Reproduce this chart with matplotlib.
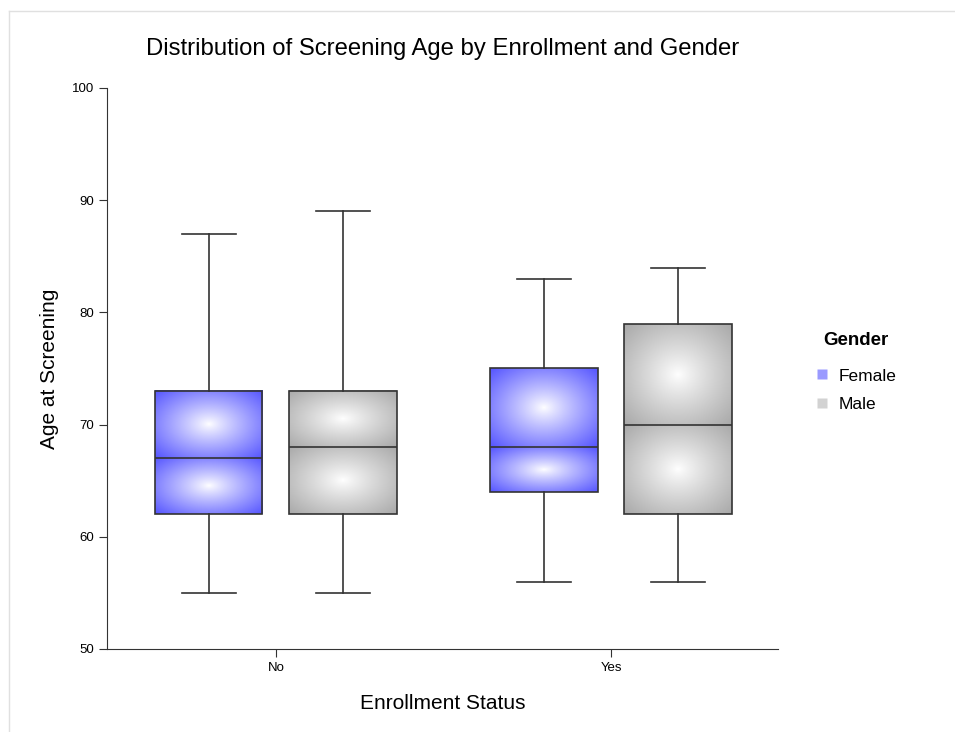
import numpy as np
import matplotlib
matplotlib.use("Agg")
import matplotlib.pyplot as plt
from matplotlib.lines import Line2D

plt.rcParams["font.family"] = ["Liberation Sans", "DejaVu Sans"]

# data
enrollment = ["No", "Yes"]
genders = ["Female", "Male"]
whisker_low = [[55, 55], [56, 56]]
q1 = [[62, 62], [64, 62]]
median = [[67, 68], [68, 70]]
q3 = [[73, 73], [75, 79]]
whisker_high = [[87, 89], [83, 84]]

edge_rgb = {"Female": (0.33, 0.33, 1.0), "Male": (0.66, 0.66, 0.66)}
legend_rgb = {"Female": "#9a9aff", "Male": "#d2d2d2"}
offsets = {"Female": -0.2, "Male": 0.2}
box_w = 0.32

fig = plt.figure(figsize=(9.55, 7.32), dpi=100)
ax = fig.add_axes([0.112, 0.1134, 0.7026, 0.7664])


def radial(rgb, n=120):
    yy, xx = np.mgrid[-1:1:n * 1j, -1:1:n * 1j]
    r = np.sqrt(xx ** 2 + yy ** 2) / np.sqrt(2)
    r = np.clip(r, 0, 1) ** 0.9
    img = np.ones((n, n, 3))
    for c in range(3):
        img[..., c] = 1.0 * (1 - r) + rgb[c] * r
    return img


stats = []
positions = []
for i, enr in enumerate(enrollment):
    for j, g in enumerate(genders):
        pos = i + offsets[g]
        positions.append(pos)
        stats.append({
            "whislo": whisker_low[i][j], "q1": q1[i][j], "med": median[i][j],
            "q3": q3[i][j], "whishi": whisker_high[i][j], "fliers": [],
        })
        x0, x1 = pos - box_w / 2, pos + box_w / 2
        grad = radial(edge_rgb[g])
        for lo, hi in [(q1[i][j], median[i][j]), (median[i][j], q3[i][j])]:
            ax.imshow(grad, extent=[x0, x1, lo, hi], aspect="auto",
                      interpolation="bilinear", zorder=1)

ax.bxp(stats, positions=positions, widths=box_w, showfliers=False,
       patch_artist=True,
       boxprops=dict(facecolor="none", edgecolor="#333333", linewidth=1.2),
       medianprops=dict(color="#333333", linewidth=1.2),
       whiskerprops=dict(color="#333333", linewidth=1.2),
       capprops=dict(color="#333333", linewidth=1.2),
       capwidths=box_w / 2, zorder=3)

ax.set_xlim(-0.504, 1.498)
ax.set_ylim(50, 100)
ax.set_xticks(range(len(enrollment)))
ax.set_xticklabels(enrollment)
ax.set_yticks(np.arange(50, 101, 10))
ax.tick_params(axis="both", labelsize=9.5, length=6, color="#333333")
for s in ["top", "right"]:
    ax.spines[s].set_visible(False)
for s in ["left", "bottom"]:
    ax.spines[s].set_color("#333333")

ax.set_xlabel("Enrollment Status", fontsize=15, labelpad=14)
ax.set_ylabel("Age at Screening", fontsize=15, labelpad=9)
ax.set_title("Distribution of Screening Age by Enrollment and Gender",
             fontsize=17.2, pad=24)

handles = [Line2D([], [], marker="s", linestyle="none", markersize=6.5,
                  markerfacecolor=legend_rgb[g], markeredgecolor="none",
                  label=g) for g in genders]
leg = ax.legend(handles=handles, title="Gender", loc="center left",
                bbox_to_anchor=(1.032, 0.494), frameon=False, fontsize=12.5,
                handletextpad=0.55, labelspacing=0.75, handlelength=0.8)
leg.get_title().set_fontweight("bold")
leg.get_title().set_fontsize(13.5)
leg._legend_box.sep = 14

# thin frame along top and left edges
fig.add_artist(Line2D([0.0095, 1.0], [1 - 11 / 732, 1 - 11 / 732],
                      transform=fig.transFigure, color="#e0e0e0", lw=1))
fig.add_artist(Line2D([0.0095, 0.0095], [0, 1 - 11 / 732],
                      transform=fig.transFigure, color="#e0e0e0", lw=1))

fig.savefig("out.png", dpi=100)
